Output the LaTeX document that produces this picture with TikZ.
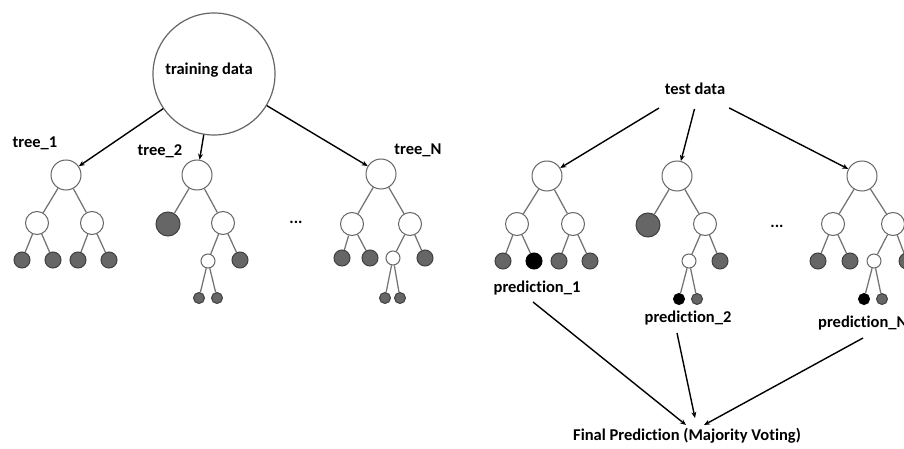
\documentclass[tikz,border=0pt]{standalone}
\usepackage{fontspec}
\setmainfont{Carlito}[Ligatures=NoCommon]
\usetikzlibrary{arrows.meta}
\begin{document}
\begin{tikzpicture}[x=1pt,y=-1pt,
  lbl/.style={font=\bfseries\fontsize{16.5}{18}\selectfont, inner sep=0pt, anchor=base},
  wn/.style={circle, draw=black!60, line width=1pt, fill=white, inner sep=0pt, minimum size=#1},
  gn/.style={circle, draw=black!75, line width=1pt, fill=black!60, inner sep=0pt, minimum size=#1},
  bn/.style={circle, draw=black, line width=1pt, fill=black, inner sep=0pt, minimum size=#1},
  edge/.style={draw=black!55, line width=1.25pt},
  arr/.style={draw=black, line width=1.4pt, -{Stealth[length=6pt,width=5pt]}}
]
\useasboundingbox (0,0) rectangle (904,449);
\clip (0,0) rectangle (904,449);
\fill[white] (0,0) rectangle (904,449);

% ---------- training side ----------
\node[wn=122pt, line width=1.2pt] (trd) at (214,74) {};
\node[lbl] (trdl) at (209,75) {training data};

% tree_1
\node[lbl] (t1l) at (35,148) {tree\_1};
\node[wn=30pt] (a0) at (66,175) {};
\node[wn=23pt] (a1) at (37,223) {};
\node[wn=23pt] (a2) at (92,223) {};
\node[gn=16pt] (a3) at (22,260) {};
\node[gn=16pt] (a4) at (53,260) {};
\node[gn=16pt] (a5) at (78,260) {};
\node[gn=16pt] (a6) at (109,260) {};
\draw[edge] (a0)--(a1) (a0)--(a2) (a1)--(a3) (a1)--(a4) (a2)--(a5) (a2)--(a6);

% tree_2
\node[lbl] (t2l) at (160,156) {tree\_2};
\node[wn=30pt] (b0) at (197,175) {};
\node[gn=24pt] (b1) at (168,224) {};
\node[wn=23pt] (b2) at (223,223) {};
\node[wn=14pt] (b3) at (208,261) {};
\node[gn=16pt] (b4) at (240,260) {};
\node[gn=11pt] (b5) at (199,298) {};
\node[gn=11pt] (b6) at (217,298) {};
\draw[edge] (b0)--(b1) (b0)--(b2) (b2)--(b3) (b2)--(b4) (b3)--(b5) (b3)--(b6);

\node[lbl] (dl) at (296,223) {...};

% tree_N
\node[lbl] (tnl) at (418,155) {tree\_N};
\node[wn=30pt] (c0) at (381,174) {};
\node[wn=23pt] (c1) at (352,224) {};
\node[wn=23pt] (c2) at (410,224) {};
\node[gn=16pt] (c3) at (342,258) {};
\node[gn=16pt] (c4) at (370,258) {};
\node[wn=14pt] (c5) at (393,258) {};
\node[gn=16pt] (c6) at (425,258) {};
\node[gn=11pt] (c7) at (385,298) {};
\node[gn=11pt] (c8) at (400,298) {};
\draw[edge] (c0)--(c1) (c0)--(c2) (c1)--(c3) (c1)--(c4) (c2)--(c5) (c2)--(c6) (c5)--(c7) (c5)--(c8);

\draw[arr] (trd) -- (a0);
\draw[arr] (trd) -- (b0);
\draw[arr] (trd) -- (c0);

% ---------- test side ----------
\node[lbl] (tst) at (695,95) {test data};

% R1
\node[wn=30pt] (d0) at (547,176) {};
\node[wn=23pt] (d1) at (517,224) {};
\node[wn=23pt] (d2) at (573,224) {};
\node[gn=16pt] (d3) at (503,261) {};
\node[bn=16pt] (d4) at (534,261) {};
\node[gn=16pt] (d5) at (559,261) {};
\node[gn=16pt] (d6) at (590,261) {};
\draw[edge] (d0)--(d1) (d0)--(d2) (d1)--(d3) (d1)--(d4) (d2)--(d5) (d2)--(d6);
\node[lbl] (p1) at (537,292) {prediction\_1};

% R2
\node[wn=30pt] (e0) at (677,176) {};
\node[gn=24pt] (e1) at (648,225) {};
\node[wn=23pt] (e2) at (705,224) {};
\node[wn=14pt] (e3) at (689,261) {};
\node[gn=16pt] (e4) at (720,261) {};
\node[bn=11pt] (e5) at (679,299) {};
\node[gn=11pt] (e6) at (697,299) {};
\draw[edge] (e0)--(e1) (e0)--(e2) (e2)--(e3) (e2)--(e4) (e3)--(e5) (e3)--(e6);
\node[lbl] (p2) at (688,322) {prediction\_2};

\node[lbl] (dr) at (777,227) {...};

% RN
\node[wn=30pt] (f0) at (862,176) {};
\node[wn=23pt] (f1) at (833,224) {};
\node[wn=23pt] (f2) at (893,224) {};
\node[gn=16pt] (f3) at (818,261) {};
\node[gn=16pt] (f4) at (850,261) {};
\node[wn=14pt] (f5) at (874,261) {};
\node[gn=16pt] (f6) at (907,261) {};
\node[bn=11pt] (f7) at (864,299) {};
\node[gn=11pt] (f8) at (882,299) {};
\draw[edge] (f0)--(f1) (f0)--(f2) (f1)--(f3) (f1)--(f4) (f2)--(f5) (f2)--(f6) (f5)--(f7) (f5)--(f8);
\node[lbl, anchor=base west] (pN) at (818,327) {prediction\_N};

\draw[arr, shorten <=2pt] ([xshift=-4pt,yshift=-12pt]tst.base west) -- (d0);
\draw[arr, shorten <=2pt] ([xshift=0pt,yshift=-12pt]tst.base) -- (e0);
\draw[arr, shorten <=2pt] ([xshift=2pt,yshift=-12pt]tst.base east) -- (f0);

% final
\node[lbl] (fin) at (687,440) {Final Prediction (Majority Voting)};
\draw[arr] ([xshift=-4pt,yshift=-10pt]p1.base) -- ([xshift=-1pt,yshift=15pt]fin.base);
\draw[arr] ([xshift=-11pt,yshift=-11pt]p2.base) -- ([xshift=8pt,yshift=22pt]fin.base);
\draw[arr] ([xshift=45pt,yshift=-11pt]pN.base west) -- ([xshift=17pt,yshift=15pt]fin.base);
\end{tikzpicture}
\end{document}
